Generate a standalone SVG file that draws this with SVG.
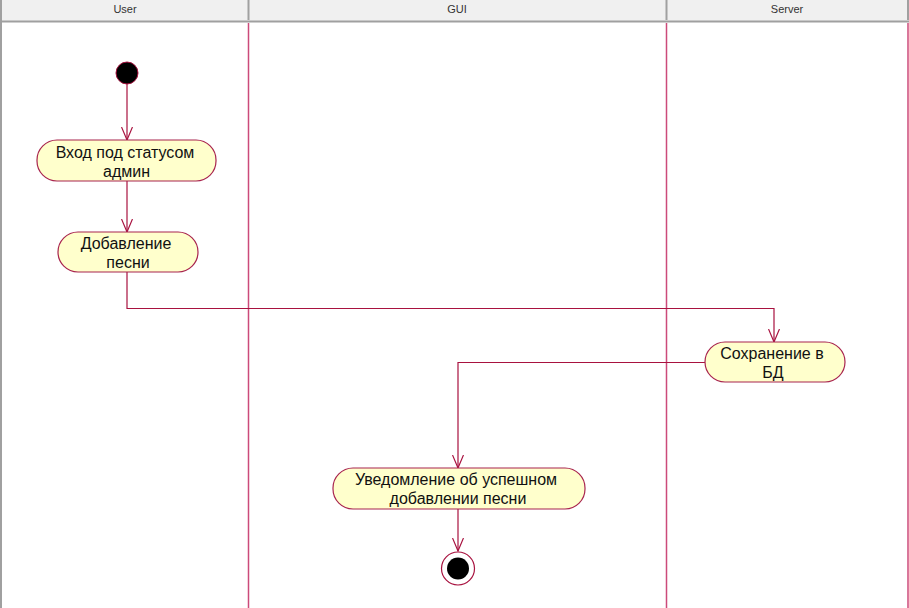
<svg xmlns="http://www.w3.org/2000/svg" width="909" height="608" viewBox="0 0 909 608">
<defs>
<style>
.hdr{fill:#f0f0f0;stroke:none}
.hsep{stroke:#a0a0a0;stroke-width:2}
.lane{stroke:#cc4a7a;stroke-width:1.5;fill:none}
.lbl{font-family:"Liberation Sans",Arial,sans-serif;font-size:11px;fill:#333;text-anchor:middle}
.act{fill:#ffffcc;stroke:#a8244e;stroke-width:1.2}
.txt{font-family:"Liberation Sans",Arial,sans-serif;font-size:16px;fill:#111;text-anchor:middle}
.conn{stroke:#a8123f;stroke-width:1.2;fill:none}
</style>
<marker id="arr" viewBox="0 0 14 12" refX="13" refY="6" markerWidth="14" markerHeight="12" markerUnits="userSpaceOnUse" orient="auto">
<path d="M0,0.5 L13,6 L0,11.5" fill="none" stroke="#a8123f" stroke-width="1.2"/>
</marker>
</defs>
<rect width="909" height="608" fill="#ffffff"/>
<g id="lanes">
<rect class="hdr" x="0" y="0" width="909" height="21"/>
<line class="hsep" x1="0" y1="21.5" x2="909" y2="21.5" stroke-width="3" stroke="#8a8a8a"/>
<line class="hsep" x1="1" y1="0" x2="1" y2="608"/>
<line class="hsep" x1="248.5" y1="0" x2="248.5" y2="20"/>
<line class="hsep" x1="666.5" y1="0" x2="666.5" y2="20"/>
<line class="hsep" x1="908" y1="0" x2="908" y2="20"/>
<line class="lane" x1="248.5" y1="23" x2="248.5" y2="608"/>
<line class="lane" x1="666.5" y1="23" x2="666.5" y2="608"/>
<line class="lane" x1="908" y1="23" x2="908" y2="608"/>
<text class="lbl" x="125" y="13">User</text>
<text class="lbl" x="457" y="13">GUI</text>
<text class="lbl" x="787" y="13">Server</text>
</g>
<g id="connectors">
<line class="conn" x1="127" y1="84" x2="127" y2="140" marker-end="url(#arr)"/>
<line class="conn" x1="127" y1="181" x2="127" y2="232" marker-end="url(#arr)"/>
<polyline class="conn" points="127,272 127,308.5 774,308.5 774,342" marker-end="url(#arr)"/>
<polyline class="conn" points="705,362.5 458,362.5 458,468" marker-end="url(#arr)"/>
<line class="conn" x1="458" y1="509" x2="458" y2="551" marker-end="url(#arr)"/>
</g>
<g id="start">
<circle cx="127" cy="73" r="11" fill="#000" stroke="#a8123f" stroke-width="1"/>
</g>
<g id="login">
<rect class="act" x="37" y="140" width="179" height="41" rx="20" ry="20"/>
<text class="txt" x="125" y="158">Вход под статусом</text>
<text class="txt" x="126.5" y="177">админ</text>
</g>
<g id="addSong">
<rect class="act" x="58" y="232" width="140" height="40" rx="20" ry="20"/>
<text class="txt" x="126" y="249">Добавление</text>
<text class="txt" x="128" y="268">песни</text>
</g>
<g id="saveDb">
<rect class="act" x="705" y="342" width="140" height="40" rx="20" ry="20"/>
<text class="txt" x="772" y="359">Сохранение в</text>
<text class="txt" x="773" y="378">БД</text>
</g>
<g id="notify">
<rect class="act" x="333" y="468" width="252" height="41" rx="20" ry="20"/>
<text class="txt" x="456" y="485">Уведомление об успешном</text>
<text class="txt" x="458" y="504">добавлении песни</text>
</g>
<g id="end">
<circle cx="458" cy="568.5" r="16.5" fill="#fff" stroke="#a8123f" stroke-width="1.2"/>
<circle cx="458" cy="568.5" r="11" fill="#000"/>
</g>
</svg>
